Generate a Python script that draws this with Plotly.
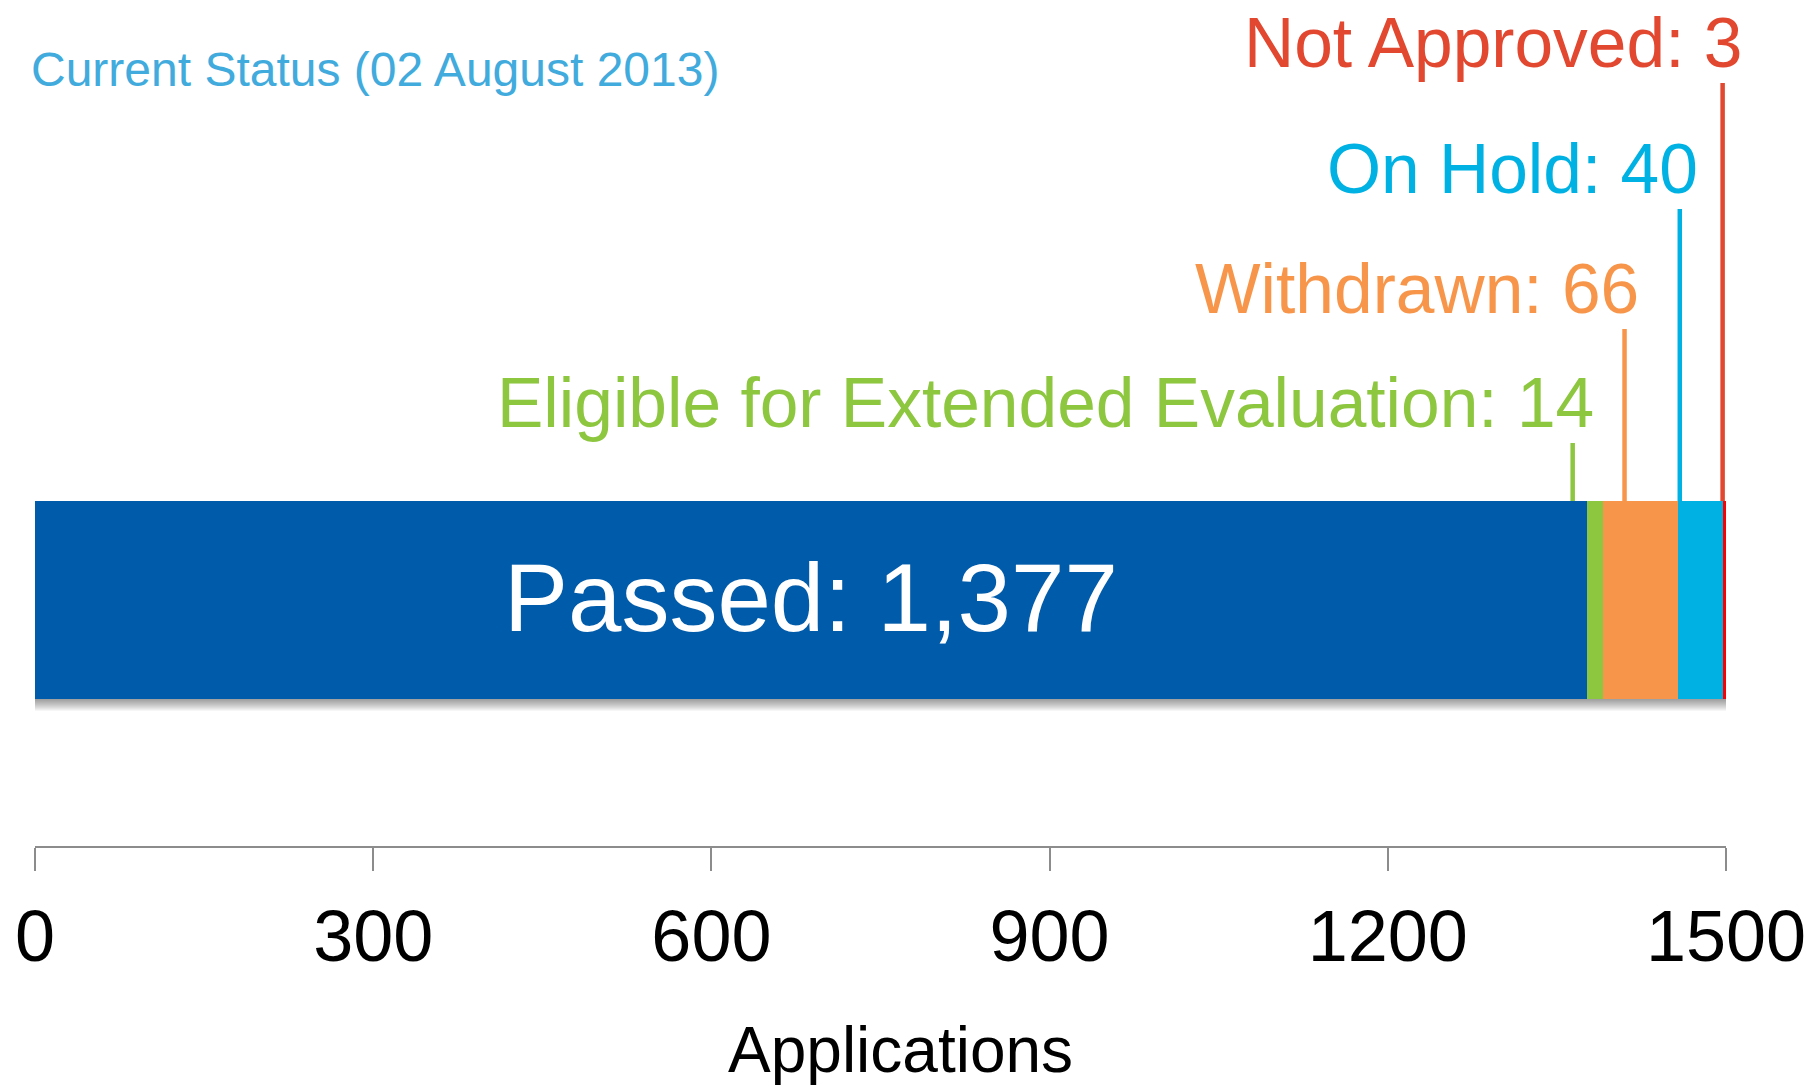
import plotly.graph_objects as go

# ---- data ----
categories = ["Passed", "Eligible for Extended Evaluation", "Withdrawn", "On Hold", "Not Approved"]
counts = [1377, 14, 66, 40, 3]
bar_colors = ["#005BAA", "#8DC63F", "#F7964A", "#00B2E3", "#FF0000"]
label_colors = ["#FFFFFF", "#8DC63F", "#F7964A", "#00B2E3", "#E2472F"]
tick_values = [0, 300, 600, 900, 1200, 1500]
tick_labels = ["0", "300", "600", "900", "1200", "1500"]
title_text = "Current Status (02 August 2013)"
axis_title = "Applications"

# ---- layout constants ----
W, H = 1812, 1087
ML, MR, MT, MB = 35, 86, 0, 241
plot_h = H - MT - MB
bar_px = 198.0                      # bar thickness in pixels
y_lo = -0.5 - (plot_h - 699) / bar_px
y_hi = 0.5 + (501 - MT) / bar_px
FONT = "Liberation Sans, Arial, Helvetica, sans-serif"

# leader line offsets (data units, relative to segment start), top heights (y units),
# and label pixel shifts
leader_shift = [None, -13, 19, 2, 0]
leader_top = [None, 0.793, 1.369, 1.975, 2.611]
label_xshift = [None, 22, 15, 19, 20]

fig = go.Figure()

starts = []
acc = 0
for c in counts:
    starts.append(acc)
    acc += c

for cat, v, col in zip(categories, counts, bar_colors):
    fig.add_trace(go.Bar(
        x=[v], y=[0], orientation="h", width=1.0,
        marker=dict(color=col, line=dict(width=0)),
        name=cat, hoverinfo="name+x", showlegend=False,
    ))

shapes = []
# soft shadow under bar
total = sum(counts)
for k in range(1, 13):
    shapes.append(dict(type="rect", xref="x", yref="y", layer="below",
                       x0=0, x1=total + 2.5,
                       y0=-0.5 - k / bar_px, y1=-0.5 + 2 / bar_px,
                       fillcolor="rgba(0,0,0,0.035)", line=dict(width=0)))

annotations = []
# Passed label inside bar
annotations.append(dict(
    x=counts[0] / 2, y=0, xref="x", yref="y",
    text=f"{categories[0]}: {counts[0]:,}", showarrow=False,
    font=dict(family=FONT, size=96, color=label_colors[0]),
    xanchor="center", yanchor="middle", yshift=3,
))

for i in range(1, len(categories)):
    lx = starts[i] + leader_shift[i]
    shapes.append(dict(type="line", xref="x", yref="y", layer="above",
                       x0=lx, x1=lx, y0=0.5, y1=leader_top[i],
                       line=dict(color=label_colors[i], width=4.5)))
    annotations.append(dict(
        x=lx, y=leader_top[i], xref="x", yref="y",
        text=f"{categories[i]}: {counts[i]:,}", showarrow=False,
        font=dict(family=FONT, size=69.5, color=label_colors[i]),
        xanchor="right", yanchor="bottom", xshift=label_xshift[i], borderpad=0,
    ))

# title
annotations.append(dict(
    x=0, y=1, xref="paper", yref="paper", text=title_text, showarrow=False,
    font=dict(family=FONT, size=48, color="#41ABDD"),
    xanchor="left", yanchor="top", xshift=-6, yshift=-41,
))
# axis title
annotations.append(dict(
    x=(900 - ML) / (W - ML - MR), y=0, xref="paper", yref="paper",
    text=axis_title, showarrow=False,
    font=dict(family=FONT, size=64, color="#000000"),
    xanchor="center", yanchor="top", yshift=-166,
))

fig.update_layout(
    width=W, height=H,
    margin=dict(l=ML, r=MR, t=MT, b=MB, pad=0),
    paper_bgcolor="white", plot_bgcolor="white",
    barmode="stack", bargap=0,
    shapes=shapes, annotations=annotations,
    xaxis=dict(
        range=[0, 1500], tickmode="array", tickvals=tick_values, ticktext=tick_labels,
        showgrid=False, zeroline=False, showline=True, linecolor="#8C8C8C", linewidth=2,
        ticks="outside", ticklen=23, tickwidth=2, tickcolor="#8C8C8C",
        tickfont=dict(family=FONT, size=72, color="#000000"),
        ticklabelstandoff=4, fixedrange=True,
    ),
    yaxis=dict(range=[y_lo, y_hi], visible=False, fixedrange=True),
)

fig.write_html(
    "out.html",
    config={"displayModeBar": False},
    post_script="document.body.style.margin='0';document.body.style.overflow='hidden';",
)
